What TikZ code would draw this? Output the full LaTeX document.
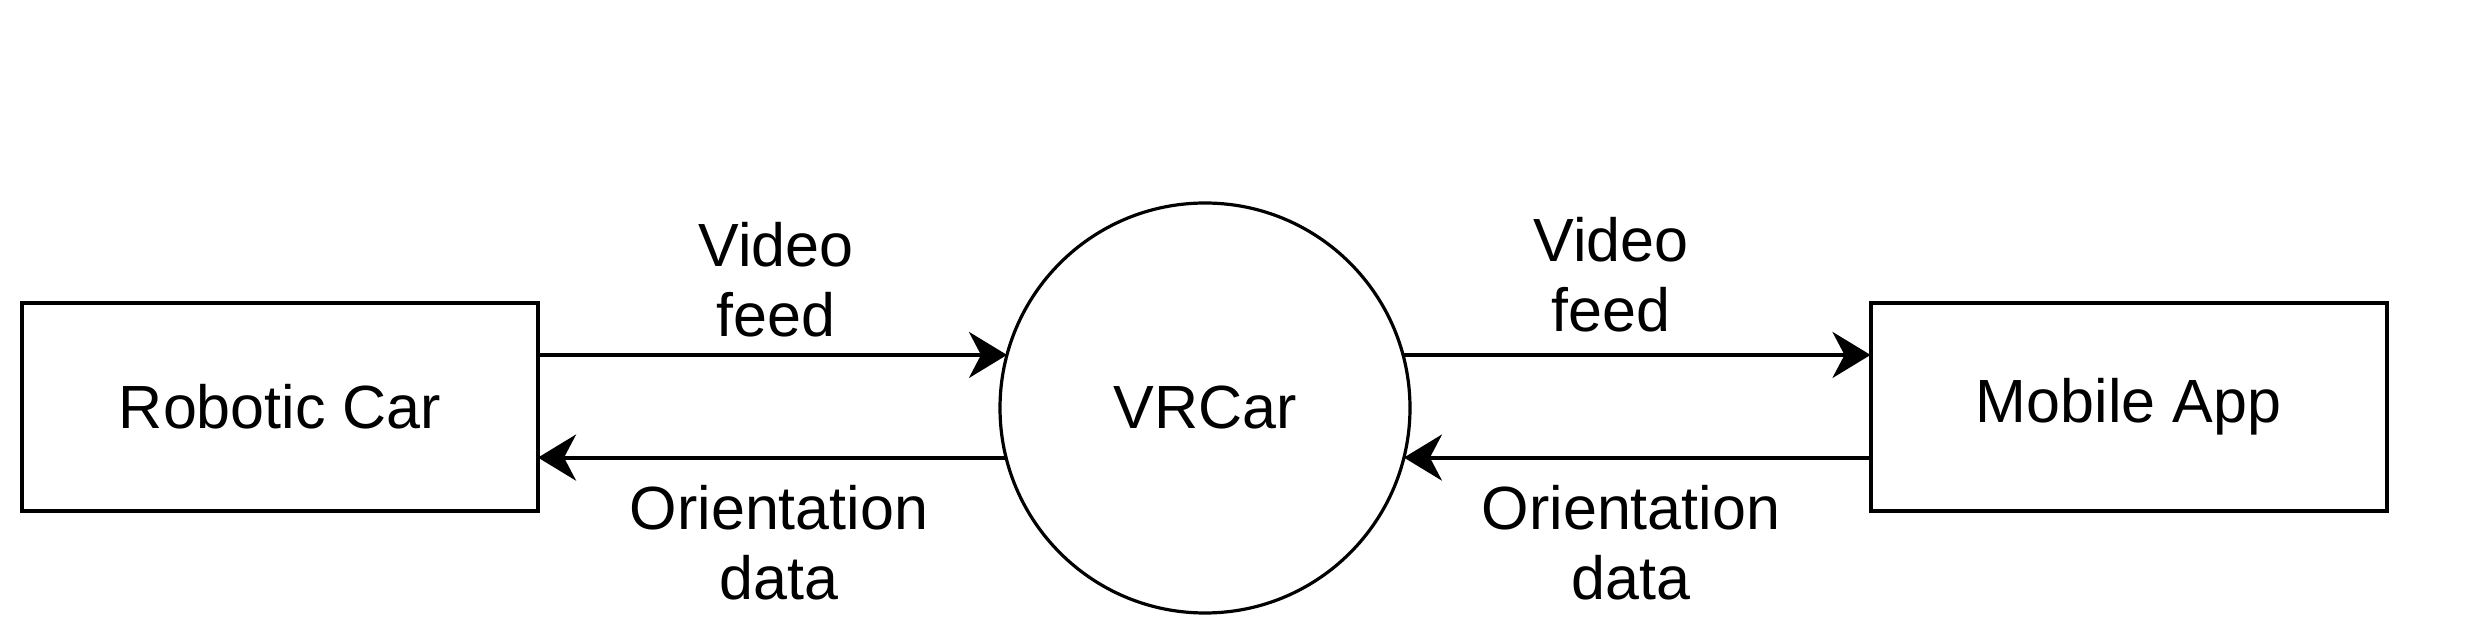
\documentclass[tikz,border=0pt]{standalone}
\usepackage{fontspec}
\setmainfont{Liberation Sans}
\usetikzlibrary{arrows.meta}
\begin{document}
\begin{tikzpicture}[x=0.5pt,y=-0.5pt,
  every node/.style={font=\fontsize{30.5}{35}\selectfont, align=center},
  box/.style={draw, line width=2pt, minimum width=258pt, minimum height=104pt, inner sep=0pt, outer sep=0pt},
  proc/.style={draw, line width=1.6pt, circle, minimum size=205pt, inner sep=0pt, outer sep=0pt},
  arr/.style={line width=2pt, -{Stealth[length=19pt, width=23pt, inset=6pt]}},
  lbl/.style={inner sep=0pt}]
\useasboundingbox (0,0) rectangle (2474,640);
\node[box] (rc) at (280,407) {Robotic Car};
\node[proc] (vr) at (1205,408) {VRCar};
\node[box] (ma) at (2128.5,407) {Mobile App};
\draw[arr] (rc.east |- vr.165.3) -- (vr.165.3);
\draw[arr] (vr.194.7) -- (rc.east |- vr.194.7);
\draw[arr] (vr.15.3) -- (ma.west |- vr.15.3);
\draw[arr] (ma.west |- vr.-14.7) -- (vr.-14.7);
\node[lbl] (l1) at (776,280) {Video\\feed};
\node[lbl] (l2) at (779,543) {Orientation\\data};
\node[lbl] (l3) at (1611,275) {Video\\feed};
\node[lbl] (l4) at (1631,543) {Orientation\\data};
\end{tikzpicture}
\end{document}
